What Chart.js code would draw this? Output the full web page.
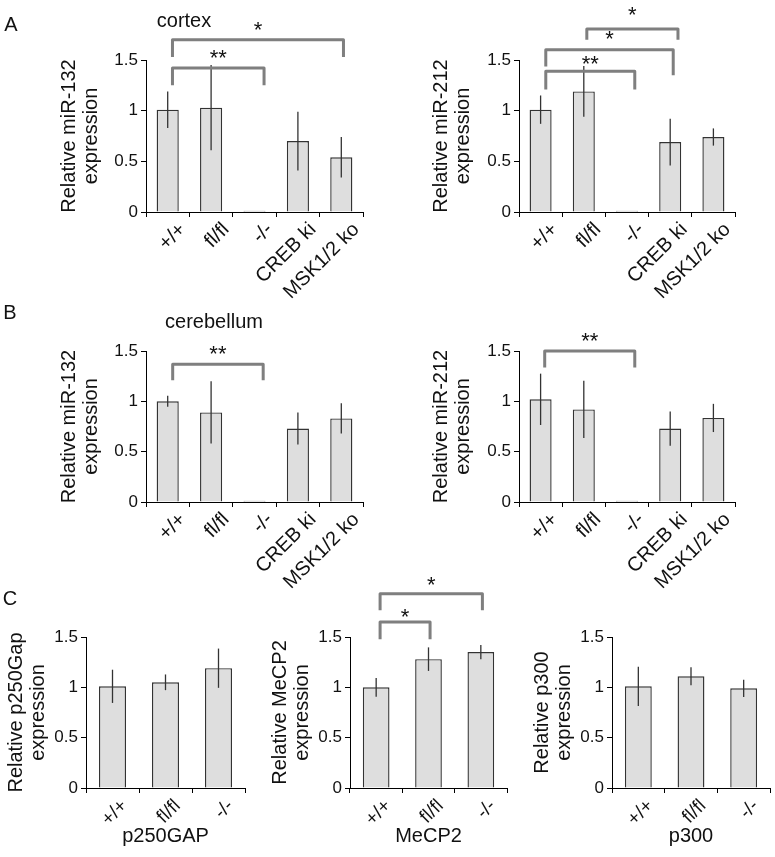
<!DOCTYPE html>
<html>
<head>
<meta charset="utf-8">
<title>miR-132 / miR-212 expression</title>
<script src="https://cdn.jsdelivr.net/npm/chart.js@4.4.0/dist/chart.umd.min.js"></script>
<style>
  body { margin: 0; background: #fff; font-family: "Liberation Sans", Arial, sans-serif; }
  #fig { position: relative; width: 775px; height: 857px; overflow: hidden; }
  #fig canvas { position: absolute; }
  .lbl { position: absolute; transform: translate(-50%, -50%); white-space: nowrap; color: #111; z-index: 2; }
</style>
</head>
<body>
<div id="fig">
  <canvas id="c1" width="380" height="310" style="left:0px;top:0px"></canvas>
  <canvas id="c2" width="395" height="310" style="left:380px;top:0px"></canvas>
  <canvas id="c3" width="380" height="310" style="left:0px;top:290px"></canvas>
  <canvas id="c4" width="395" height="310" style="left:380px;top:290px"></canvas>
  <canvas id="c5" width="258" height="297" style="left:0px;top:560px"></canvas>
  <canvas id="c6" width="258" height="297" style="left:258px;top:560px"></canvas>
  <canvas id="c7" width="259" height="297" style="left:516px;top:560px"></canvas>

  <div class="lbl" style="left:11px;top:24px;font-size:20px">A</div>
  <div class="lbl" style="left:10px;top:312px;font-size:20px">B</div>
  <div class="lbl" style="left:10px;top:598px;font-size:20px">C</div>
  <div class="lbl" style="left:184px;top:20px;font-size:20px">cortex</div>
  <div class="lbl" style="left:214px;top:321px;font-size:20px">cerebellum</div>
</div>

<script>
// ---- data ----
const genotypes = ['+/+', 'fl/fl', '-/-', 'CREB ki', 'MSK1/2 ko'];
const genotypesC = ['+/+', 'fl/fl', '-/-'];
const yTicks = [0, 0.5, 1, 1.5];

const cortex132 = [1.01, 1.03, 0.012, 0.70, 0.54];
const cortex132Err = [0.18, 0.42, 0, 0.29, 0.20];
const cortex212 = [1.01, 1.19, 0.012, 0.69, 0.74];
const cortex212Err = [0.14, 0.25, 0, 0.23, 0.085];
const cereb132 = [1.00, 0.89, 0.012, 0.73, 0.83];
const cereb132Err = [0.055, 0.31, 0, 0.16, 0.15];
const cereb212 = [1.02, 0.92, 0.012, 0.73, 0.835];
const cereb212Err = [0.255, 0.285, 0, 0.17, 0.14];
const p250gap = [1.01, 1.05, 1.19];
const p250gapErr = [0.165, 0.078, 0.195];
const mecp2 = [1.00, 1.28, 1.35];
const mecp2Err = [0.093, 0.117, 0.07];
const p300 = [1.01, 1.11, 0.99];
const p300Err = [0.195, 0.09, 0.085];

// significance brackets: [from cat, to cat, bracket level, left leg end, right leg end, stars, stars level]
const cortex132Sig = [[0.11, 2.22, 1.42, 1.25, 1.25, '**', 1.57], [0.11, 4.05, 1.70, 1.53, 1.53, '*', 1.85]];
const cortex212Sig = [[0.12, 2.18, 1.39, 1.21, 1.21, '**', 1.51], [0.12, 3.07, 1.60, 1.435, 1.35, '*', 1.76],
                      [1.07, 3.18, 1.806, 1.70, 1.70, '*', 2.0]];
const cereb132Sig = [[0.115, 2.20, 1.369, 1.21, 1.21, '**', 1.52]];
const cereb212Sig = [[0.095, 2.18, 1.50, 1.337, 1.337, '**', 1.65]];
const mecp2Sig = [[0.075, 1.03, 1.649, 1.478, 1.478, '*', 1.75], [0.075, 2.03, 1.93, 1.765, 1.765, '*', 2.07]];

const FONT = '"Liberation Sans", Arial, sans-serif';

// error bars + brackets drawn through the chart's own scales
function annotate(errors, sig) {
    return {
        id: 'annotate',
        afterDatasetsDraw(chart) {
            const ctx = chart.ctx, xs = chart.scales.x, ys = chart.scales.y;
            const bars = chart.getDatasetMeta(0).data;
            const vals = chart.data.datasets[0].data;
            ctx.save();
            ctx.strokeStyle = '#333';
            ctx.lineWidth = 1.3;
            bars.forEach((bar, i) => {
                if (!errors[i]) return;
                ctx.beginPath();
                ctx.moveTo(bar.x, ys.getPixelForValue(vals[i] + errors[i]));
                ctx.lineTo(bar.x, ys.getPixelForValue(vals[i] - errors[i]));
                ctx.stroke();
            });

            const x0 = xs.getPixelForValue(0);
            const step = xs.getPixelForValue(1) - x0;
            const px = c => x0 + c * step;
            ctx.lineWidth = 3;
            ctx.lineJoin = 'round';
            ctx.font = '22px ' + FONT;
            ctx.textAlign = 'center';
            ctx.textBaseline = 'alphabetic';
            sig.forEach(([a, b, lvl, la, lb, stars, sl]) => {
                ctx.strokeStyle = '#7f7f7f';
                ctx.beginPath();
                ctx.moveTo(px(a), ys.getPixelForValue(la));
                ctx.lineTo(px(a), ys.getPixelForValue(lvl));
                ctx.lineTo(px(b), ys.getPixelForValue(lvl));
                ctx.lineTo(px(b), ys.getPixelForValue(lb));
                ctx.stroke();
                ctx.fillStyle = '#111';
                ctx.fillText(stars, (px(a) + px(b)) / 2, ys.getPixelForValue(sl) + 12.5);
            });
            ctx.restore();
        }
    };
}

function drawChart(id, geo, labels, values, errors, sig, yTitle, xTitle) {
    return new Chart(document.getElementById(id), {
        type: 'bar',
        data: {
            labels: labels,
            datasets: [{
                data: values,
                backgroundColor: '#dedede',
                borderColor: '#333',
                borderWidth: 1.4,
                barPercentage: 0.51,
                categoryPercentage: 1
            }]
        },
        options: {
            responsive: false,
            animation: false,
            devicePixelRatio: 1,
            layout: { padding: { top: geo.top, right: geo.right, left: 0, bottom: 0 } },
            plugins: { legend: { display: false }, tooltip: { enabled: false } },
            scales: {
                x: {
                    grid: { display: true, drawOnChartArea: false, drawTicks: true, tickLength: 5, color: '#000', offset: true },
                    border: { display: true, color: '#000', width: 1 },
                    ticks: {
                        autoSkip: false, minRotation: 45, maxRotation: 45,
                        font: { size: geo.lblSize, family: FONT }, color: '#111',
                        padding: geo.lblPad, labelOffset: geo.lblOffset
                    },
                    title: {
                        display: !!xTitle, text: xTitle || '',
                        font: { size: 20, family: FONT }, color: '#111',
                        padding: { top: 0, bottom: 9 }
                    },
                    afterFit(s) { s.height = geo.xH; }
                },
                y: {
                    min: 0, max: 1.5,
                    afterBuildTicks(s) { s.ticks = yTicks.map(v => ({ value: v })); },
                    grid: { drawOnChartArea: false, drawTicks: true, tickLength: 5, color: '#000' },
                    border: { display: true, color: '#000', width: 1 },
                    ticks: { font: { size: 17, family: FONT }, color: '#111', padding: 3, callback: v => String(v) },
                    title: {
                        display: true, text: yTitle,
                        font: { size: 20, family: FONT, lineHeight: 1.1 }, color: '#111',
                        padding: { top: geo.titleGap, bottom: 0 }
                    },
                    afterFit(s) { s.width = geo.yW; }
                }
            }
        },
        plugins: [annotate(errors, sig)]
    });
}

const rowA = { top: 60, right: 17, yW: 146, xH: 98, titleGap: 58, lblSize: 20, lblPad: 1, lblOffset: 15 };
const rowAr = { top: 60, right: 40, yW: 139, xH: 98, titleGap: 50, lblSize: 20, lblPad: 1, lblOffset: 14 };
const rowB = { top: 61, right: 17, yW: 146, xH: 98, titleGap: 58, lblSize: 20, lblPad: 1, lblOffset: 15 };
const rowBr = { top: 61, right: 40, yW: 139, xH: 98, titleGap: 50, lblSize: 20, lblPad: 1, lblOffset: 14 };

drawChart('c1', rowA, genotypes, cortex132, cortex132Err, cortex132Sig, ['Relative miR-132', 'expression']);
drawChart('c2', rowAr, genotypes, cortex212, cortex212Err, cortex212Sig, ['Relative miR-212', 'expression']);
drawChart('c3', rowB, genotypes, cereb132, cereb132Err, cereb132Sig, ['Relative miR-132', 'expression']);
drawChart('c4', rowBr, genotypes, cereb212, cereb212Err, cereb212Sig, ['Relative miR-212', 'expression']);

drawChart('c5', { top: 77, right: 13, yW: 86, xH: 69, titleGap: 5, lblSize: 19, lblPad: 2, lblOffset: 12 },
    genotypesC, p250gap, p250gapErr, [], ['Relative p250Gap', 'expression'], 'p250GAP');
drawChart('c6', { top: 77, right: 9, yW: 92, xH: 69, titleGap: 11, lblSize: 19, lblPad: 2, lblOffset: 12 },
    genotypesC, mecp2, mecp2Err, mecp2Sig, ['Relative MeCP2', 'expression'], 'MeCP2');
drawChart('c7', { top: 77, right: 5, yW: 96, xH: 69, titleGap: 15, lblSize: 19, lblPad: 2, lblOffset: 12 },
    genotypesC, p300, p300Err, [], ['Relative p300', 'expression'], 'p300');
</script>
</body>
</html>
